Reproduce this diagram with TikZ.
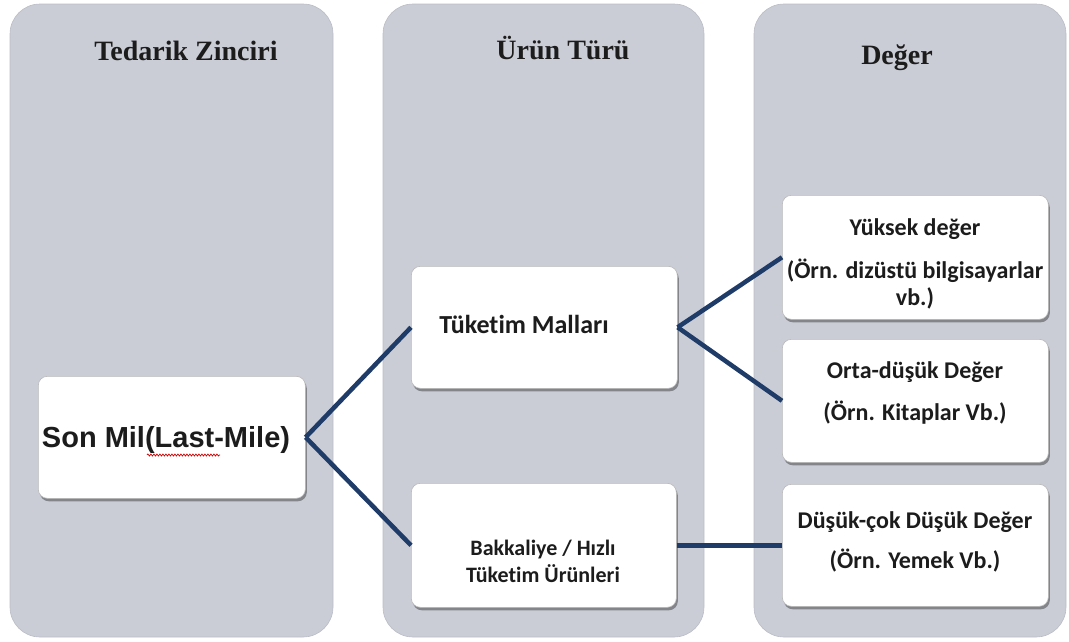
\documentclass[tikz,border=0pt]{standalone}
\usepackage{fontspec}
\setmainfont{Liberation Serif}
\newfontfamily\calibrifont[Ligatures=NoCommon]{Carlito}
\newfontfamily\arialfont{Liberation Sans}
\usetikzlibrary{shadows,decorations.pathmorphing}
\definecolor{lanefill}{HTML}{CACDD6}
\definecolor{linkblue}{HTML}{1F3B68}
\definecolor{ink}{HTML}{1C1C1C}

\begin{document}
\begin{tikzpicture}[x=1pt,y=-1pt,
  lanebox/.style={fill=lanefill, draw=lanefill!92!black, line width=0.6pt, rounded corners=30pt},
  card/.style={fill=white, draw=gray!55, line width=0.6pt, rounded corners=9pt,
    anchor=north west, inner sep=0pt,
    drop shadow={shadow xshift=1.5pt, shadow yshift=-3pt, fill=black, opacity=0.35}},
  lanetitle/.style={font=\bfseries\fontsize{28}{30}\selectfont, text=ink, anchor=base},
  cardtext/.style={font=\calibrifont\bfseries\fontsize{24}{27}\selectfont, text=ink, align=center, inner sep=0pt, anchor=base},
  linkline/.style={draw=linkblue, line width=4.5pt}
]
\useasboundingbox (0,0) rectangle (1069,641);

% three lanes
\path[lanebox] (10,4) rectangle (333,637);
\path[lanebox] (383,4) rectangle (704,637);
\path[lanebox] (754,4) rectangle (1066,637);

% lane headings
\node[lanetitle] (t1) at (186,60) {Tedarik Zinciri};
\node[lanetitle] (t2) at (563,59) {Ürün Türü};
\node[lanetitle] (t3) at (897,64) {Değer};

% cards
\node[card, minimum width=267pt, minimum height=122pt] (son) at (38,376) {};
\node[card, minimum width=266pt, minimum height=122pt] (tuk) at (411,266) {};
\node[card, minimum width=265pt, minimum height=124pt] (bak) at (411,483) {};
\node[card, minimum width=266pt, minimum height=124pt] (yuk) at (782,195) {};
\node[card, minimum width=266pt, minimum height=123pt] (orta) at (782,339) {};
\node[card, minimum width=266pt, minimum height=122pt] (dus) at (782,484) {};

% card texts (base anchor = baseline of the last line)
\node[font=\arialfont\bfseries\fontsize{29}{31}\selectfont, text=ink, inner sep=0pt, anchor=base]
  (sonT) at (166,447) {Son Mil(Last-Mile)};
\draw[red!80!black, line width=0.7pt, decorate,
  decoration={snake, amplitude=1pt, segment length=3pt}] (147,455) -- (220,455);

\node[cardtext, font=\calibrifont\bfseries\fontsize{26}{28}\selectfont]
  (tukT) at (524,333) {Tüketim Malları};
\node[cardtext, font=\calibrifont\bfseries\fontsize{22}{27}\selectfont]
  (bakT) at (543,582) {Bakkaliye / Hızlı\\Tüketim Ürünleri};

\node[cardtext] (yukT) at (915,305)
  {Yüksek değer\\[16pt](Örn. dizüstü bilgisayarlar\\vb.)};
\node[cardtext] (ortaT) at (915,420)
  {Orta-düşük Değer\\[15pt](Örn. Kitaplar Vb.)};
\node[cardtext] (dusT) at (915,568)
  {Düşük-çok Düşük Değer\\[13pt](Örn. Yemek Vb.)};

% connectors
\draw[linkline] (son.east) -- (tuk.west);
\draw[linkline] (son.east) -- (bak.west);
\draw[linkline] (tuk.east) -- (yuk.west);
\draw[linkline] (tuk.east) -- (orta.west);
\draw[linkline] (bak.east) -- (dus.west);
\end{tikzpicture}
\end{document}
